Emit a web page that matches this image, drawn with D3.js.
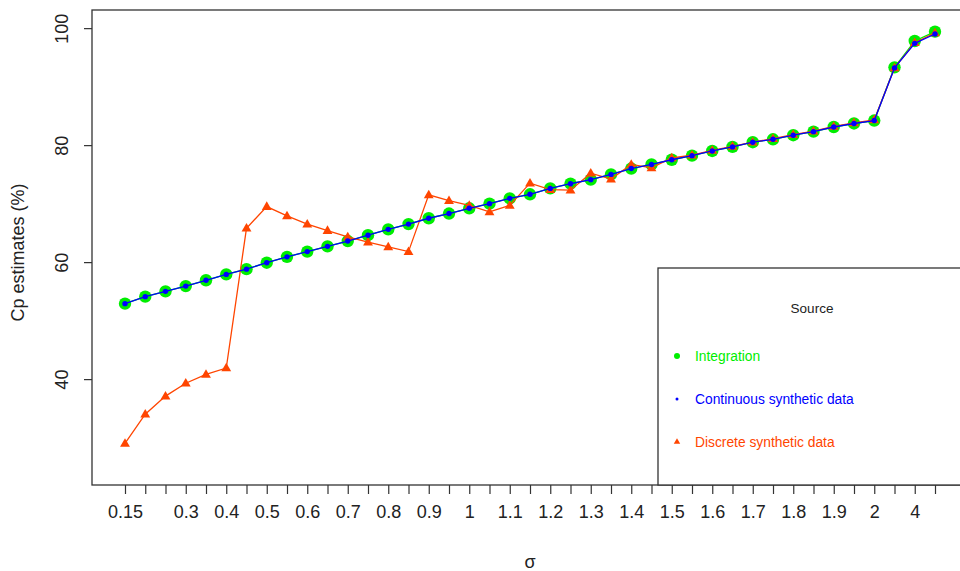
<!DOCTYPE html>
<html>
<head>
<meta charset="utf-8">
<script src="https://cdn.jsdelivr.net/npm/d3@7"></script>
<style>
  html, body { margin: 0; padding: 0; background: #fff; }
  svg { display: block; font-family: "Liberation Sans", Arial, sans-serif; }
</style>
</head>
<body>
<svg id="chart" width="960" height="571"></svg>
<script>
// sigma levels (categorical x axis)
const sigma = [0.15, 0.2, 0.25, 0.3, 0.35, 0.4, 0.45, 0.5, 0.55, 0.6, 0.65, 0.7, 0.75, 0.8,
  0.85, 0.9, 0.95, 1, 1.05, 1.1, 1.15, 1.2, 1.25, 1.3, 1.35, 1.4, 1.45, 1.5, 1.55, 1.6,
  1.65, 1.7, 1.75, 1.8, 1.85, 1.9, 1.95, 2, 3, 4, 5];

// labels that fit along the axis
const xLabels = ["0.15", "0.3", "0.4", "0.5", "0.6", "0.7", "0.8", "0.9", "1", "1.1", "1.2",
  "1.3", "1.4", "1.5", "1.6", "1.7", "1.8", "1.9", "2", "4"];
const yTicks = [40, 60, 80, 100];

// Cp estimates (%) by source
const integration = [52.9, 54.1, 55.0, 55.9, 56.9, 57.9, 58.8, 59.9, 60.9, 61.8, 62.7, 63.6,
  64.6, 65.6, 66.5, 67.5, 68.3, 69.2, 70.0, 70.9, 71.6, 72.6, 73.4, 74.1, 75.0, 76.0, 76.7,
  77.5, 78.2, 79.0, 79.7, 80.5, 81.0, 81.7, 82.3, 83.1, 83.7, 84.2, 93.3, 97.8, 99.4];
const continuous = [52.9, 54.1, 55.0, 55.9, 56.9, 57.9, 58.8, 59.9, 60.9, 61.8, 62.7, 63.6,
  64.6, 65.6, 66.5, 67.5, 68.3, 69.2, 70.0, 70.9, 71.6, 72.6, 73.4, 74.1, 75.0, 76.0, 76.7,
  77.5, 78.2, 79.0, 79.7, 80.5, 81.0, 81.7, 82.3, 83.1, 83.7, 84.2, 93.2, 97.4, 99.0];
const discrete = [29.0, 34.0, 37.1, 39.3, 40.8, 41.9, 65.8, 69.5, 67.9, 66.5, 65.4, 64.3,
  63.4, 62.6, 61.8, 71.5, 70.5, 69.7, 68.6, 69.7, 73.5, 72.4, 72.3, 75.2, 74.2, 76.7, 76.1,
  77.8, 78.3, 79.1, 79.8, 80.5, 81.1, 81.8, 82.4, 83.2, 83.8, 84.3, 93.2, 97.5, 99.2];

const seriesNames = ["Integration", "Continuous synthetic data", "Discrete synthetic data"];
const seriesColors = ["#00ee00", "#0000ff", "#ff4500"];

const svg = d3.select("#chart");
const plot = { left: 92, right: 968, top: 10, bottom: 485 };

const x = d3.scalePoint()
  .domain(sigma.map(String))
  .range([125, 935]);
const y = d3.scaleLinear()
  .domain([21.9, 103.1])
  .range([plot.bottom, plot.top]);

const textColor = "#222";

// x axis ticks at every sigma level, labels only where they fit
const xAxis = d3.axisBottom(x)
  .tickSize(9)
  .tickFormat(d => xLabels.includes(d) ? d : "");
const gx = svg.append("g")
  .attr("transform", `translate(0,${plot.bottom})`)
  .call(xAxis);
gx.select(".domain").remove();
gx.selectAll(".tick line").attr("stroke", "#333").attr("stroke-width", 1.2);
gx.selectAll(".tick text")
  .attr("fill", textColor)
  .attr("font-size", 18)
  .attr("y", 20)
  .attr("dy", "0.71em");

// y axis with rotated labels
const yAxis = d3.axisLeft(y).tickValues(yTicks).tickSize(8);
const gy = svg.append("g")
  .attr("transform", `translate(${plot.left},0)`)
  .call(yAxis);
gy.select(".domain").remove();
gy.selectAll(".tick line").attr("stroke", "#333").attr("stroke-width", 1.2);
gy.selectAll(".tick text")
  .attr("fill", textColor)
  .attr("font-size", 18)
  .attr("x", null).attr("dy", null)
  .attr("text-anchor", "middle")
  .attr("transform", "translate(-24,0) rotate(-90)");

// axis titles
svg.append("text")
  .attr("x", 530).attr("y", 568)
  .attr("text-anchor", "middle")
  .attr("font-size", 18)
  .attr("fill", textColor)
  .text("σ");
svg.append("text")
  .attr("transform", `translate(24,${(plot.top + plot.bottom) / 2 + 5}) rotate(-90)`)
  .attr("text-anchor", "middle")
  .attr("font-size", 18)
  .attr("fill", textColor)
  .text("Cp estimates (%)");

// series
const line = d3.line().x((d, i) => x(String(sigma[i]))).y(d => y(d));
const tri = d3.symbol().type(d3.symbolTriangle).size(42);

const g = svg.append("g");

// integration: large green dots
g.append("path").datum(integration)
  .attr("d", line).attr("fill", "none")
  .attr("stroke", seriesColors[0]).attr("stroke-width", 1.3);
g.selectAll("circle.int").data(integration).join("circle")
  .attr("class", "int")
  .attr("cx", (d, i) => x(String(sigma[i])))
  .attr("cy", d => y(d))
  .attr("r", 6.2)
  .attr("fill", seriesColors[0]);

// discrete synthetic: orange triangles
g.append("path").datum(discrete)
  .attr("d", line).attr("fill", "none")
  .attr("stroke", seriesColors[2]).attr("stroke-width", 1.3);
g.selectAll("path.dis").data(discrete).join("path")
  .attr("class", "dis")
  .attr("d", tri)
  .attr("transform", (d, i) => `translate(${x(String(sigma[i]))},${y(d) + 0.5})`)
  .attr("fill", seriesColors[2]);

// continuous synthetic: small blue dots
g.append("path").datum(continuous)
  .attr("d", line).attr("fill", "none")
  .attr("stroke", seriesColors[1]).attr("stroke-width", 1.3);
g.selectAll("circle.con").data(continuous).join("circle")
  .attr("class", "con")
  .attr("cx", (d, i) => x(String(sigma[i])))
  .attr("cy", d => y(d))
  .attr("r", 2.7)
  .attr("fill", seriesColors[1]);

// plot frame
svg.append("rect")
  .attr("x", plot.left).attr("y", plot.top)
  .attr("width", plot.right - plot.left).attr("height", plot.bottom - plot.top)
  .attr("fill", "none").attr("stroke", "#333").attr("stroke-width", 1.3);

// legend
const lg = svg.append("g");
lg.append("rect")
  .attr("x", 658).attr("y", 268)
  .attr("width", 320).attr("height", plot.bottom - 268)
  .attr("fill", "#fff").attr("stroke", "#333").attr("stroke-width", 1.3);
lg.append("text")
  .attr("x", 812).attr("y", 313)
  .attr("text-anchor", "middle")
  .attr("font-size", 13.5)
  .attr("fill", textColor)
  .text("Source");

const legendY = [356, 399, 442];
seriesNames.forEach((name, i) => {
  const cy = legendY[i];
  if (i === 0) {
    lg.append("circle").attr("cx", 677).attr("cy", cy).attr("r", 3).attr("fill", seriesColors[0]);
  } else if (i === 1) {
    lg.append("circle").attr("cx", 677).attr("cy", cy).attr("r", 1.5).attr("fill", seriesColors[1]);
  } else {
    lg.append("path").attr("d", d3.symbol().type(d3.symbolTriangle).size(18))
      .attr("transform", `translate(677,${cy})`).attr("fill", seriesColors[2]);
  }
  lg.append("text")
    .attr("x", 695).attr("y", cy + 5)
    .attr("font-size", 13.8)
    .attr("fill", seriesColors[i])
    .text(name);
});
</script>
</body>
</html>
